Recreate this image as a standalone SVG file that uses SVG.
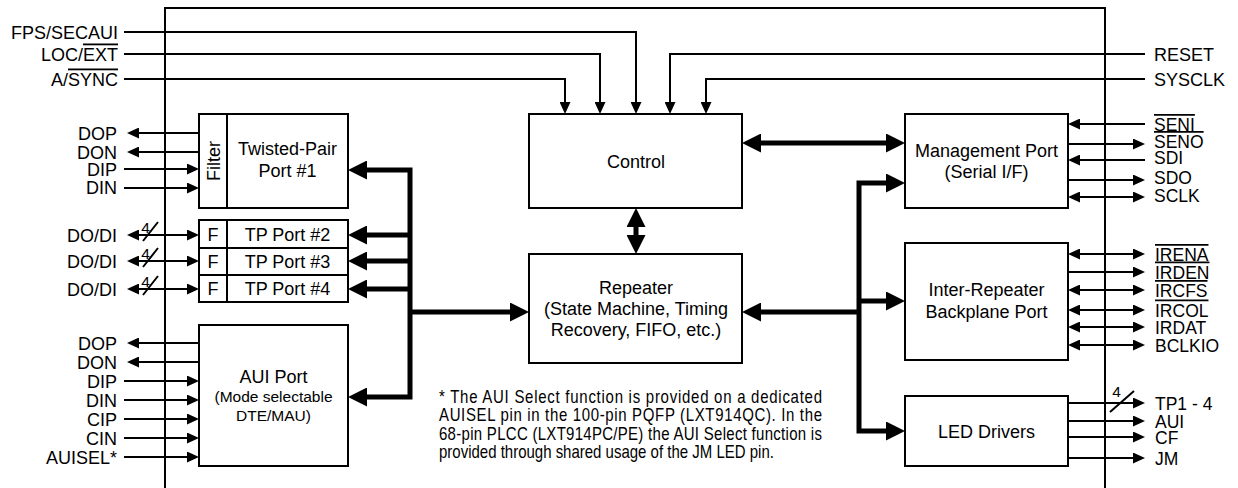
<svg xmlns="http://www.w3.org/2000/svg" width="1238" height="488" viewBox="0 0 1238 488">
<style>
.t{font-family:"Liberation Sans",Arial,sans-serif;font-size:18px;fill:#000}
.m{text-anchor:middle}
.e{text-anchor:end}
.s{font-size:15.5px}
.d{font-size:15.5px}
.r{font-size:17.5px}
.fn{font-family:"Liberation Sans",Arial,sans-serif;font-size:15px;fill:#000}
.ov{text-decoration:overline}
.box{fill:#fff;stroke:#000;stroke-width:2}
.w{fill:none;stroke:#000;stroke-width:2}
.wi{fill:none;stroke:#000;stroke-width:2;marker-end:url(#ah)}
.wd{fill:none;stroke:#000;stroke-width:2;marker-start:url(#ah);marker-end:url(#ah)}
.b{fill:none;stroke:#000;stroke-width:5;stroke-linejoin:miter}
.bi{fill:none;stroke:#000;stroke-width:5;marker-end:url(#AH)}
.bd{fill:none;stroke:#000;stroke-width:5;stroke-linejoin:miter;marker-start:url(#AH);marker-end:url(#AH)}
</style>
<defs>
<marker id="ah" markerUnits="userSpaceOnUse" markerWidth="12" markerHeight="11" refX="0" refY="5.5" orient="auto-start-reverse"><path d="M0,0 L12,5.5 L0,11 z" fill="#000"/></marker>
<marker id="AH" markerUnits="userSpaceOnUse" markerWidth="19" markerHeight="19" refX="0" refY="9.5" orient="auto-start-reverse"><path d="M0,0 L19,9.5 L0,19 z" fill="#000"/></marker>
</defs>
<rect width="1238" height="488" fill="#fff"/>
<path id="chip" class="w" d="M165,490 V8 H1105 V490"/>
<g id="connectors">
<path class="wi" d="M124,32 H636 V102"/>
<path class="wi" d="M124,54 H600 V102"/>
<path class="wi" d="M124,79 H565 V102"/>
<path class="wi" d="M1145,54 H670 V102"/>
<path class="wi" d="M1145,79 H706 V102"/>
<path class="wi" d="M199,133 H139"/>
<path class="wi" d="M199,152 H139"/>
<path class="wi" d="M124,169 H187"/>
<path class="wi" d="M124,188 H187"/>
<path class="wd" d="M139,235 H187"/>
<path class="wd" d="M139,261 H187"/>
<path class="wd" d="M139,289 H187"/>
<path class="w" d="M143,241 L158,222 M143,267 L158,248 M143,295 L158,276"/>
<path class="wi" d="M199,343 H139"/>
<path class="wi" d="M199,362 H139"/>
<path class="wi" d="M124,381 H187"/>
<path class="wi" d="M124,400 H187"/>
<path class="wi" d="M124,419 H187"/>
<path class="wi" d="M124,438 H187"/>
<path class="wi" d="M124,457 H187"/>
<path class="wi" d="M1145,124 H1080"/>
<path class="wi" d="M1068,144 H1133"/>
<path class="wi" d="M1145,160 H1080"/>
<path class="wi" d="M1068,180 H1133"/>
<path class="wd" d="M1080,197 H1133"/>
<path class="wd" d="M1080,254 H1133"/>
<path class="wi" d="M1068,272 H1133"/>
<path class="wd" d="M1080,290 H1133"/>
<path class="wd" d="M1080,310 H1133"/>
<path class="wd" d="M1080,327 H1133"/>
<path class="wd" d="M1080,345 H1133"/>
<path class="wi" d="M1068,403 H1133"/>
<path class="wi" d="M1068,421 H1133"/>
<path class="wi" d="M1068,437 H1133"/>
<path class="wi" d="M1068,458 H1133"/>
<path class="w" d="M1110,412 L1134,391"/>
<path class="bd" d="M761,143 H886"/>
<path class="bd" d="M636,227 V235"/>
<path class="bd" d="M367,170 H410 V397 H367"/>
<path class="bi" d="M410,235 H367"/>
<path class="bi" d="M410,261 H367"/>
<path class="bi" d="M410,289 H367"/>
<path class="bi" d="M410,312 H510"/>
<path class="b" d="M761,312 H859" style="marker-start:url(#AH)"/>
<path class="bd" d="M886,183 H859 V431 H886"/>
<path class="bi" d="M859,301 H886"/>
</g>
<g id="pin-labels" class="t">
<text class="e" x="118" y="38.5">FPS/SECAUI</text>
<text class="e" x="118" y="60.5">LOC/<tspan class="ov">EXT</tspan></text>
<text class="e" x="118" y="85.5">A/<tspan class="ov">SYNC</tspan></text>
<text x="1154" y="60.5">RESET</text>
<text x="1154" y="85.5">SYSCLK</text>
<text class="e" x="117" y="139.5">DOP</text>
<text class="e" x="117" y="158.5">DON</text>
<text class="e" x="117" y="176">DIP</text>
<text class="e" x="117" y="193.5">DIN</text>
<text class="e" x="117" y="241.5">DO/DI</text>
<text class="e" x="117" y="267.5">DO/DI</text>
<text class="e" x="117" y="295.5">DO/DI</text>
<text class="d m" x="145.5" y="233">4</text>
<text class="d m" x="145.5" y="259">4</text>
<text class="d m" x="145.5" y="287">4</text>
<text class="e" x="117" y="349.5">DOP</text>
<text class="e" x="117" y="368.5">DON</text>
<text class="e" x="117" y="387.5">DIP</text>
<text class="e" x="117" y="406.5">DIN</text>
<text class="e" x="117" y="425.5">CIP</text>
<text class="e" x="117" y="444.5">CIN</text>
<text class="e" x="117" y="463.5">AUISEL*</text>
<text class="r" x="1154" y="131"><tspan class="ov">SENI</tspan></text>
<text class="r" x="1154" y="148"><tspan class="ov">SENO</tspan></text>
<text class="r" x="1154" y="164">SDI</text>
<text class="r" x="1154" y="184">SDO</text>
<text class="r" x="1154" y="202">SCLK</text>
<text class="r" x="1155" y="261"><tspan class="ov">IRENA</tspan></text>
<text class="r" x="1155" y="278.5"><tspan class="ov">IRDEN</tspan></text>
<text class="r" x="1155" y="297"><tspan class="ov">IRCFS</tspan></text>
<text class="r" x="1155" y="316.5"><tspan class="ov">IRCOL</tspan></text>
<text class="r" x="1155" y="334">IRDAT</text>
<text class="r" x="1155" y="352">BCLKIO</text>
<text class="d m" x="1116.5" y="397">4</text>
<text class="r" x="1155" y="409.5">TP1 - 4</text>
<text class="r" x="1155" y="427.5">AUI</text>
<text class="r" x="1155" y="443.5">CF</text>
<text class="r" x="1155" y="464.5">JM</text>
</g>
<g id="control" class="t">
<rect class="box" x="529" y="114" width="213" height="94"/>
<text class="m" x="636" y="167.5">Control</text>
</g>
<g id="repeater" class="t">
<rect class="box" x="529" y="254" width="213" height="109"/>
<text class="m" x="636" y="294">Repeater</text>
<text class="m" x="636" y="315">(State Machine, Timing</text>
<text class="m" x="636" y="336">Recovery, FIFO, etc.)</text>
</g>
<g id="tp-port-1" class="t">
<rect class="box" x="199" y="114" width="149" height="94"/>
<path class="w" d="M227,114 V208"/>
<text class="m" x="213" y="167.5" transform="rotate(-90 213 161)">Filter</text>
<text class="m" x="287.5" y="155">Twisted-Pair</text>
<text class="m" x="287.5" y="177">Port #1</text>
</g>
<g id="tp-port-2" class="t">
<rect class="box" x="199" y="220" width="149" height="28"/>
<path class="w" d="M227,220 V248"/>
<text class="m" x="213" y="240.5">F</text>
<text class="m" x="287.5" y="240.5">TP Port #2</text>
</g>
<g id="tp-port-3" class="t">
<rect class="box" x="199" y="248" width="149" height="27"/>
<path class="w" d="M227,248 V275"/>
<text class="m" x="213" y="268">F</text>
<text class="m" x="287.5" y="268">TP Port #3</text>
</g>
<g id="tp-port-4" class="t">
<rect class="box" x="199" y="275" width="149" height="27"/>
<path class="w" d="M227,275 V302"/>
<text class="m" x="213" y="295">F</text>
<text class="m" x="287.5" y="295">TP Port #4</text>
</g>
<g id="aui-port" class="t">
<rect class="box" x="199" y="325" width="149" height="141"/>
<text class="m" x="273.5" y="383">AUI Port</text>
<text class="m s" x="273.5" y="402">(Mode selectable</text>
<text class="m s" x="273.5" y="421">DTE/MAU)</text>
</g>
<g id="management-port" class="t">
<rect class="box" x="905" y="114" width="163" height="94"/>
<text class="m" x="986.5" y="157">Management Port</text>
<text class="m" x="986.5" y="178">(Serial I/F)</text>
</g>
<g id="inter-repeater" class="t">
<rect class="box" x="905" y="243" width="163" height="117"/>
<text class="m" x="986.5" y="296">Inter-Repeater</text>
<text class="m" x="986.5" y="318">Backplane Port</text>
</g>
<g id="led-drivers" class="t">
<rect class="box" x="905" y="396" width="163" height="70"/>
<text class="m" x="986.5" y="437.5">LED Drivers</text>
</g>
<g id="footnote" transform="translate(0,403) scale(1,1.18)">
<text class="fn" x="439" y="0" textLength="383" lengthAdjust="spacing">*  The AUI Select function is provided on a dedicated</text>
<text class="fn" x="439" y="15.5" textLength="383" lengthAdjust="spacing">AUISEL pin in the 100-pin PQFP (LXT914QC).  In the</text>
<text class="fn" x="439" y="31" textLength="383" lengthAdjust="spacing">68-pin PLCC (LXT914PC/PE) the AUI Select function is</text>
<text class="fn" x="439" y="46.5">provided through shared usage of the JM LED pin.</text>
</g>
</svg>
